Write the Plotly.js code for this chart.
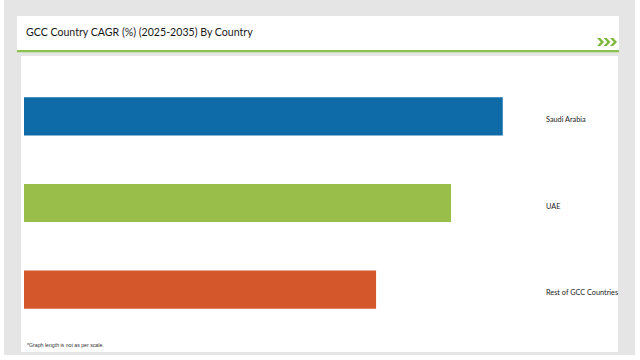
<!DOCTYPE html>
<html>
<head>
<meta charset="utf-8">
<script src="https://cdn.plot.ly/plotly-3.0.1.min.js"></script>
<style>
html,body{margin:0;padding:0;background:#ffffff;}
#chart{width:640px;height:360px;}
</style>
</head>
<body>
<div id="chart"></div>
<script>
// Data
var countries = ['Saudi Arabia', 'UAE', 'Rest of GCC Countries'];
var cagrValues = [9.26, 8.26, 6.81];
var barColors = ['#0F6AA8', '#99BE4A', '#D3572B'];
var titleText = 'GCC Country CAGR (%) (2025-2035) By Country';
var footnoteText = '*Graph length is not as per scale.';

// Layout geometry (pixels)
var W = 640, H = 360;
var mL = 24, mR = 99, mT = 73, mB = 27;
var pw = W - mL - mR, ph = H - mT - mB;
function px(x){ return (x - mL) / pw; }
function py(y){ return (H - mB - y) / ph; }

function rect(x0, y0, x1, y1, color){
  return {type:'rect', xref:'paper', yref:'paper', layer:'below',
    x0:px(x0), x1:px(x1), y0:py(y1), y1:py(y0),
    fillcolor:color, line:{width:0}};
}
function chevron(x, yc, color){
  var w = 7, h = 8, t = 3.2;
  var pts = [[x, yc-h/2],[x+t, yc-h/2],[x+w, yc],[x+t, yc+h/2],[x, yc+h/2],[x+w-t, yc]];
  var d = 'M' + pts.map(function(p){ return px(p[0]) + ',' + py(p[1]); }).join(' L') + ' Z';
  return {type:'path', xref:'paper', yref:'paper', layer:'above', path:d, fillcolor:color, line:{width:0}};
}

var shapes = [
  rect(4, 0, 635, 355, '#E5E5E5'),
  rect(17, 16, 619, 51, '#FFFFFF'),
  rect(17, 50, 619, 52.2, '#8CC04F'),
  rect(21, 56, 618, 352, '#FFFFFF'),
  chevron(597, 42, '#7DB83A'),
  chevron(603.5, 42, '#7DB83A'),
  chevron(610, 42, '#7DB83A')
];

var trace = {
  type:'bar', orientation:'h',
  x: cagrValues, y: countries,
  marker:{color: barColors, line:{width:0}},
  hoverinfo:'none'
};

var annotations = [
  {text:titleText, xref:'paper', yref:'paper', x:px(24), y:py(32), xanchor:'left', yanchor:'middle',
    showarrow:false, font:{family:'Lato', size:10.6, color:'#1a1a1a'}},
  {text:footnoteText, xref:'paper', yref:'paper', x:px(25), y:py(345), xanchor:'left', yanchor:'middle',
    showarrow:false, font:{family:'Liberation Sans', size:5.2, color:'#333333'}}
];
countries.forEach(function(c){
  annotations.push({text:c, xref:'paper', yref:'y', x:px(544), y:c, yshift:-3,
    xanchor:'left', yanchor:'middle', showarrow:false,
    font:{family:'Lato', size:7.3, color:'#222222'}});
});

var layout = {
  width: W, height: H,
  margin:{l:mL, r:mR, t:mT, b:mB, pad:0},
  paper_bgcolor:'#FFFFFF',
  plot_bgcolor:'rgba(0,0,0,0)',
  showlegend:false,
  bargap:0.56,
  xaxis:{range:[0,10], visible:false, fixedrange:true},
  yaxis:{autorange:'reversed', showgrid:false, zeroline:false, showline:false,
    ticks:'', showticklabels:false, fixedrange:true},
  shapes: shapes,
  annotations: annotations
};

Plotly.newPlot('chart', [trace], layout, {staticPlot:true, displayModeBar:false});
</script>
</body>
</html>
